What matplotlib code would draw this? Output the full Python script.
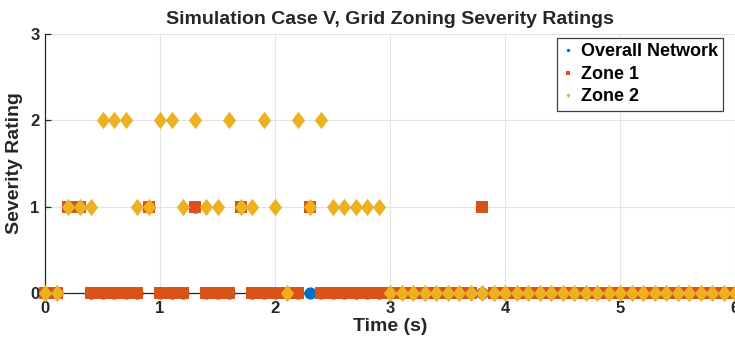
import matplotlib.pyplot as plt
from matplotlib.path import Path
import numpy as np

plt.rcParams['font.family'] = ['Liberation Sans', 'DejaVu Sans']
plt.rcParams['font.weight'] = 'bold'

# Data: severity ratings sampled every 0.1 s from 0 to 6 s
time_s = np.arange(61) / 10

overall = [0, 0, 1, 1, 0, 0, 0, 0, 0, 1,
           0, 0, 0, 1, 0, 0, 0, 1, 0, 0,
           0, 0, 0, 0, 0, 0, 0, 0, 0, 0,
           0, 0, 0, 0, 0, 0, 0, 0, 0, 0,
           0, 0, 0, 0, 0, 0, 0, 0, 0, 0,
           0, 0, 0, 0, 0, 0, 0, 0, 0, 0,
           0]
zone1 = [0, 0, 1, 1, 0, 0, 0, 0, 0, 1,
         0, 0, 0, 1, 0, 0, 0, 1, 0, 0,
         0, 0, 0, 1, 0, 0, 0, 0, 0, 0,
         0, 0, 0, 0, 0, 0, 0, 0, 1, 0,
         0, 0, 0, 0, 0, 0, 0, 0, 0, 0,
         0, 0, 0, 0, 0, 0, 0, 0, 0, 0,
         0]
zone2 = [0, 0, 1, 1, 1, 2, 2, 2, 1, 1,
         2, 2, 1, 2, 1, 1, 2, 1, 1, 2,
         1, 0, 2, 1, 2, 1, 1, 1, 1, 1,
         0, 0, 0, 0, 0, 0, 0, 0, 0, 0,
         0, 0, 0, 0, 0, 0, 0, 0, 0, 0,
         0, 0, 0, 0, 0, 0, 0, 0, 0, 0,
         0]

labels = ['Overall Network', 'Zone 1', 'Zone 2']
colors = ['#0072BD', '#D95319', '#EDB120']
txt = '#262626'

# tall diamond like the original
diamond = Path([(0, 1), (0.76, 0), (0, -1), (-0.76, 0), (0, 1)],
               [Path.MOVETO, Path.LINETO, Path.LINETO, Path.LINETO, Path.CLOSEPOLY])

fig = plt.figure(figsize=(7.35, 3.48), dpi=100)
ax = fig.add_axes([45 / 735, 1 - 293 / 348, 690 / 735, 259 / 348])

ax.plot(time_s, overall, 'o', color=colors[0], markersize=8.8, markeredgewidth=0,
        label=labels[0], clip_on=False, zorder=3)
ax.plot(time_s, zone1, 's', color=colors[1], markersize=8.0, markeredgewidth=0,
        label=labels[1], clip_on=False, zorder=4)
ax.plot(time_s, zone2, marker=diamond, linestyle='none', color=colors[2], markersize=12.5,
        markeredgewidth=0, label=labels[2], clip_on=False, zorder=5)

ax.set_xlim(0, 6)
ax.set_ylim(0, 3)
ax.set_xticks(range(7))
ax.set_yticks(range(4))
ax.grid(True, color='#e3e3e3', linewidth=0.8)
ax.set_axisbelow(True)

for side in ['top', 'right']:
    ax.spines[side].set_visible(False)
for side in ['left', 'bottom']:
    ax.spines[side].set_color(txt)
    ax.spines[side].set_linewidth(0.9)
    ax.spines[side].set_zorder(2)

ax.tick_params(direction='in', length=4, width=0.9, colors=txt, labelsize=12)
ax.tick_params(axis='x', pad=6)
ax.tick_params(axis='y', pad=4)
for lab in ax.get_xticklabels() + ax.get_yticklabels():
    lab.set_fontweight('bold')

ax.set_title('Simulation Case V, Grid Zoning Severity Ratings', fontsize=14,
             fontweight='bold', color=txt, pad=7)
ax.set_xlabel('Time (s)', fontsize=14, fontweight='bold', color=txt, labelpad=1)
ax.set_ylabel('Severity Rating', fontsize=14, fontweight='bold', color=txt, labelpad=5)

leg = ax.legend(loc='upper right', bbox_to_anchor=(723 / 735, 1 - 38 / 348),
                bbox_transform=fig.transFigure, borderaxespad=0, fancybox=False,
                framealpha=1, edgecolor='#404040', markerscale=0.28,
                handlelength=0.6, handletextpad=0.4, labelspacing=0.3,
                borderpad=0.3, prop={'size': 13, 'weight': 'bold'})
leg.get_frame().set_linewidth(0.9)
for t in leg.get_texts():
    t.set_color('black')

fig.savefig('out.png', dpi=100)
